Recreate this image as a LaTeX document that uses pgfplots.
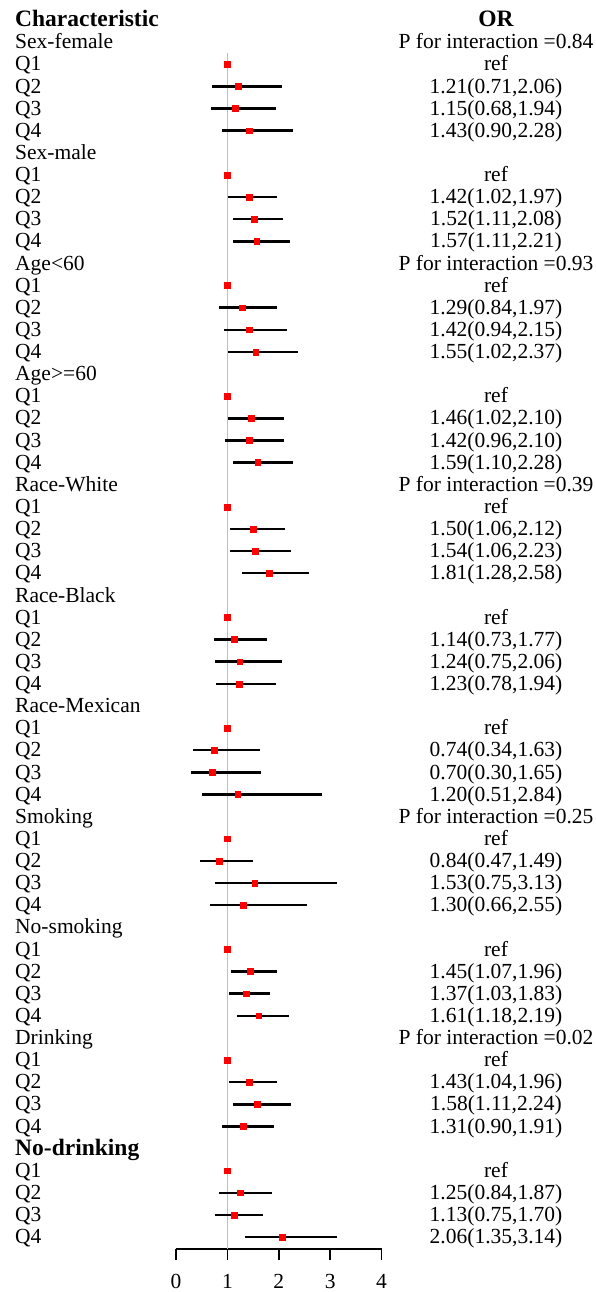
\documentclass[border=0pt]{standalone}
\usepackage{fontspec}
\setmainfont{Liberation Serif}
\usepackage{pgfplots}
\pgfplotsset{compat=1.18}
\usepackage{pgfplotstable}

\pgfplotstableread{
row or lo hi
2 1 1 1
3 1.21 0.71 2.06
4 1.15 0.68 1.94
5 1.43 0.90 2.28
7 1 1 1
8 1.42 1.02 1.97
9 1.52 1.11 2.08
10 1.57 1.11 2.21
12 1 1 1
13 1.29 0.84 1.97
14 1.42 0.94 2.15
15 1.55 1.02 2.37
17 1 1 1
18 1.46 1.02 2.10
19 1.42 0.96 2.10
20 1.59 1.10 2.28
22 1 1 1
23 1.50 1.06 2.12
24 1.54 1.06 2.23
25 1.81 1.28 2.58
27 1 1 1
28 1.14 0.73 1.77
29 1.24 0.75 2.06
30 1.23 0.78 1.94
32 1 1 1
33 0.74 0.34 1.63
34 0.70 0.30 1.65
35 1.20 0.51 2.84
37 1 1 1
38 0.84 0.47 1.49
39 1.53 0.75 3.13
40 1.30 0.66 2.55
42 1 1 1
43 1.45 1.07 1.96
44 1.37 1.03 1.83
45 1.61 1.18 2.19
47 1 1 1
48 1.43 1.04 1.96
49 1.58 1.11 2.24
50 1.31 0.90 1.91
52 1 1 1
53 1.25 0.84 1.87
54 1.13 0.75 1.70
55 2.06 1.35 3.14
}\data

\newcommand{\LX}{-3.132}
\newcommand{\RX}{6.226}
\newcommand{\fs}{\fontsize{21.5}{24}\selectfont}
\newcommand{\fb}{\fontsize{23.5}{26}\selectfont\bfseries}
\tikzset{L/.style={anchor=base west, inner sep=0pt, yshift=-6.7pt, font=\fs},
         R/.style={anchor=base, inner sep=0pt, yshift=-6.7pt, font=\fs}}
\newcommand{\grp}[6]{%
  \node[L] at (axis cs:\LX,{-(#1)}) {#2};
  \node[R] at (axis cs:\RX,{-(#1)}) {#3};
  \node[L] at (axis cs:\LX,{-(#1)-1}) {Q1};
  \node[R] at (axis cs:\RX,{-(#1)-1}) {ref};
  \node[L] at (axis cs:\LX,{-(#1)-2}) {Q2};
  \node[R] at (axis cs:\RX,{-(#1)-2}) {#4};
  \node[L] at (axis cs:\LX,{-(#1)-3}) {Q3};
  \node[R] at (axis cs:\RX,{-(#1)-3}) {#5};
  \node[L] at (axis cs:\LX,{-(#1)-4}) {Q4};
  \node[R] at (axis cs:\RX,{-(#1)-4}) {#6};
}

\begin{document}
\begin{tikzpicture}
\begin{axis}[
  name=ax,
  scale only axis,
  width=205.6pt, height=1249pt,
  xmin=0, xmax=4,
  ymin=-55.54, ymax=0.904,
  axis x line*=bottom,
  axis y line=none,
  x axis line style={line width=1.5pt, -},
  xtick={0,1,2,3,4},
  tick align=outside,
  xtick pos=bottom,
  major tick length=11pt,
  tick style={line width=1.5pt, black},
  xticklabel style={font=\fs, inner sep=1pt, yshift=-13pt},
  /pgf/number format/assume math mode=true,
  clip=false,
]
\addplot[color=black!25, line width=0.8pt] coordinates {(1,-1.49) (1,-55.54)};
\addplot[only marks, mark=square*, mark size=2.9pt, color=red,
  error bars/.cd, x dir=both, x explicit,
  error mark=none,
  error bar style={black, line width=2.5pt}]
  table[x=or, y expr=-\thisrow{row},
        x error plus expr=\thisrow{hi}-\thisrow{or},
        x error minus expr=\thisrow{or}-\thisrow{lo}] {\data};
\addplot[only marks, mark=square*, mark size=2.9pt, color=red]
  table[x=or, y expr=-\thisrow{row}] {\data};

\node[L, font=\fb] at (axis cs:\LX,0) {Characteristic};
\node[R, font=\fb] at (axis cs:\RX,0) {OR};
\grp{1}{Sex-female}{P for interaction =0.84}{1.21(0.71,2.06)}{1.15(0.68,1.94)}{1.43(0.90,2.28)}
\grp{6}{Sex-male}{}{1.42(1.02,1.97)}{1.52(1.11,2.08)}{1.57(1.11,2.21)}
\grp{11}{Age<60}{P for interaction =0.93}{1.29(0.84,1.97)}{1.42(0.94,2.15)}{1.55(1.02,2.37)}
\grp{16}{Age>=60}{}{1.46(1.02,2.10)}{1.42(0.96,2.10)}{1.59(1.10,2.28)}
\grp{21}{Race-White}{P for interaction =0.39}{1.50(1.06,2.12)}{1.54(1.06,2.23)}{1.81(1.28,2.58)}
\grp{26}{Race-Black}{}{1.14(0.73,1.77)}{1.24(0.75,2.06)}{1.23(0.78,1.94)}
\grp{31}{Race-Mexican}{}{0.74(0.34,1.63)}{0.70(0.30,1.65)}{1.20(0.51,2.84)}
\grp{36}{Smoking}{P for interaction =0.25}{0.84(0.47,1.49)}{1.53(0.75,3.13)}{1.30(0.66,2.55)}
\grp{41}{No-smoking}{}{1.45(1.07,1.96)}{1.37(1.03,1.83)}{1.61(1.18,2.19)}
\grp{46}{Drinking}{P for interaction =0.02}{1.43(1.04,1.96)}{1.58(1.11,2.24)}{1.31(0.90,1.91)}
\grp{51}{{\fb No-drinking}}{}{1.25(0.84,1.87)}{1.13(0.75,1.70)}{2.06(1.35,3.14)}
\end{axis}
\pgfresetboundingbox
\path[use as bounding box] ([shift={(-176pt,-43pt)}]ax.south west) rectangle ([shift={(420pt,1249pt)}]ax.south west);
\end{tikzpicture}
\end{document}
